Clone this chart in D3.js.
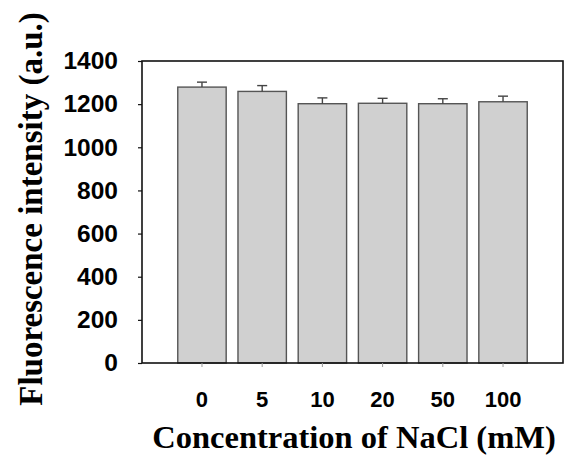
<!DOCTYPE html>
<html>
<head>
<meta charset="utf-8">
<script src="https://cdn.jsdelivr.net/npm/d3@7"></script>
<style>
  body { margin: 0; background: #fff; }
  svg { display: block; }
</style>
</head>
<body>
<svg id="chart" width="566" height="469"></svg>
<script>
var categories = ["0", "5", "10", "20", "50", "100"];
var intensity = [1279, 1259, 1202, 1204, 1202, 1211];
var errors = [23, 27, 27, 23, 23, 26];
var yTicks = [0, 200, 400, 600, 800, 1000, 1200, 1400];

(function () {
  var svg = d3.select("#chart");
  var plotLeft = 142, plotRight = 563, plotTop = 61, plotBottom = 363;

  var x = d3.scaleBand()
    .domain(categories)
    .range([plotLeft, plotRight])
    .paddingInner(0.196)
    .paddingOuter(0.594);

  var y = d3.scaleLinear()
    .domain([0, 1400])
    .range([plotBottom, plotTop]);

  var rows = categories.map(function (c, i) {
    return { cat: c, value: intensity[i], err: errors[i] };
  });

  // bars
  svg.append("g")
    .selectAll("rect")
    .data(rows)
    .enter()
    .append("rect")
    .attr("x", function (d) { return x(d.cat); })
    .attr("y", function (d) { return y(d.value); })
    .attr("width", x.bandwidth())
    .attr("height", function (d) { return y(0) - y(d.value); })
    .style("fill", "#d0d0d0")
    .style("stroke", "#555")
    .style("stroke-width", 1.4);

  // error bars (upper only)
  var eb = svg.append("g")
    .selectAll("g")
    .data(rows)
    .enter()
    .append("g")
    .style("stroke", "#444")
    .style("stroke-width", 1.4);
  eb.append("line")
    .attr("x1", function (d) { return x(d.cat) + x.bandwidth() / 2; })
    .attr("x2", function (d) { return x(d.cat) + x.bandwidth() / 2; })
    .attr("y1", function (d) { return y(d.value); })
    .attr("y2", function (d) { return y(d.value + d.err); });
  eb.append("line")
    .attr("x1", function (d) { return x(d.cat) + x.bandwidth() / 2 - 5; })
    .attr("x2", function (d) { return x(d.cat) + x.bandwidth() / 2 + 5; })
    .attr("y1", function (d) { return y(d.value + d.err); })
    .attr("y2", function (d) { return y(d.value + d.err); });

  // frame
  svg.append("rect")
    .attr("x", plotLeft)
    .attr("y", plotTop)
    .attr("width", plotRight - plotLeft)
    .attr("height", plotBottom - plotTop)
    .style("fill", "none")
    .style("stroke", "#111")
    .style("stroke-width", 1.6);

  // y axis
  var yAxis = svg.append("g")
    .attr("transform", "translate(" + plotLeft + ",0)")
    .call(d3.axisLeft(y).tickValues(yTicks).tickSize(4).tickPadding(20).tickFormat(d3.format("d")));
  yAxis.select(".domain").remove();
  yAxis.selectAll("line").style("stroke", "#111").style("stroke-width", 1.2);
  yAxis.selectAll("text")
    .style("font-family", "'Liberation Sans', Arial, sans-serif")
    .style("font-weight", "bold")
    .style("font-size", "24.5px")
    .style("fill", "#000");

  // x axis
  var xAxis = svg.append("g")
    .attr("transform", "translate(0," + plotBottom + ")")
    .call(d3.axisBottom(x).tickSize(4).tickPadding(24));
  xAxis.select(".domain").remove();
  xAxis.selectAll("line").style("stroke", "#999").style("stroke-width", 1);
  xAxis.selectAll("text")
    .style("font-family", "'Liberation Sans', Arial, sans-serif")
    .style("font-weight", "bold")
    .style("font-size", "22px")
    .style("fill", "#000");

  // titles
  svg.append("text")
    .attr("transform", "translate(42,209) rotate(-90)")
    .attr("text-anchor", "middle")
    .style("font-family", "'Liberation Serif', 'Times New Roman', serif")
    .style("font-weight", "bold")
    .style("font-size", "33px")
    .text("Fluorescence intensity (a.u.)");

  svg.append("text")
    .attr("x", 354)
    .attr("y", 448)
    .attr("text-anchor", "middle")
    .style("font-family", "'Liberation Serif', 'Times New Roman', serif")
    .style("font-weight", "bold")
    .style("font-size", "32.5px")
    .text("Concentration of NaCl (mM)");
})();
</script>
</body>
</html>
